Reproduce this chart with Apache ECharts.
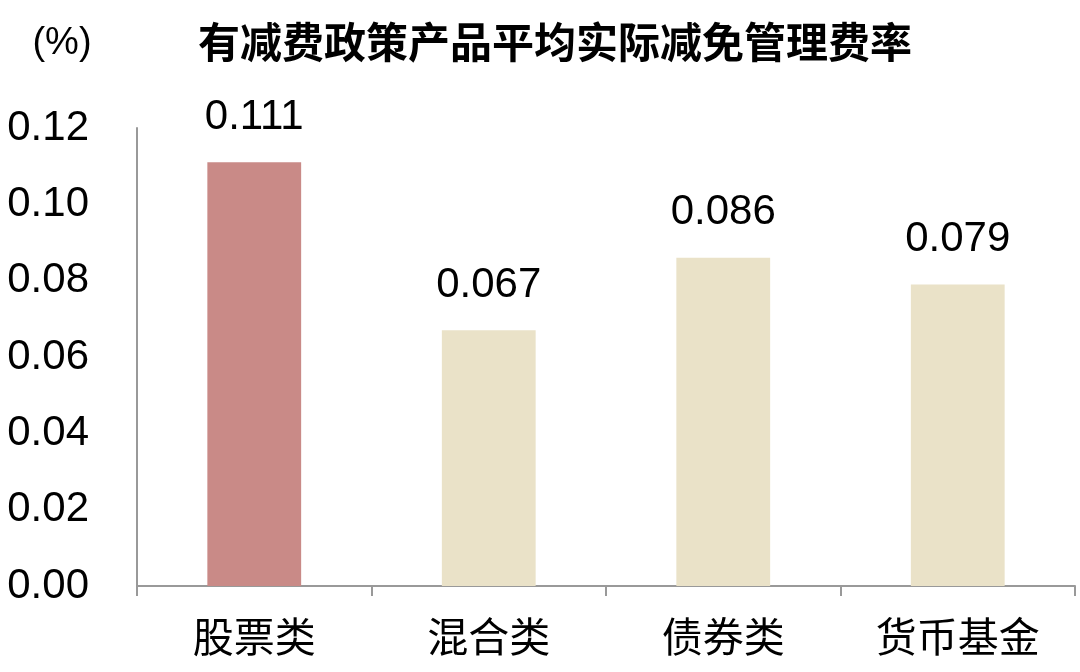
<!DOCTYPE html>
<html>
<head>
<meta charset="utf-8">
<script src="https://cdn.jsdelivr.net/npm/echarts@6/dist/echarts.min.js"></script>
<style>html,body{margin:0;padding:0;background:#fff}#chart{width:1080px;height:672px}</style>
</head>
<body>
<div id="chart"></div>
<script>
var categories = ['股票类', '混合类', '债券类', '货币基金'];
var values = [0.111, 0.067, 0.086, 0.079];
var barColors = ['#C98A87', '#EAE2C8', '#EAE2C8', '#EAE2C8'];

var myChart = echarts.init(document.getElementById('chart'));
var font = 'Liberation Sans, Arial, Noto Sans CJK SC, sans-serif';
var option = {
	animation: false,
	textStyle: { fontFamily: font },
	title: [{
		text: '有减费政策产品平均实际减免管理费率',
		left: 550, top: 16, textAlign: 'center',
		textStyle: { fontSize: 42, fontWeight: 'bold', color: '#000', fontFamily: 'Noto Sans CJK SC' }
	}, {
		text: '(%)',
		left: 57, top: 20, textAlign: 'center',
		textStyle: { fontSize: 38, fontWeight: 'normal', color: '#000', fontFamily: font }
	}],
	grid: { left: 137, right: 5, top: 128, bottom: 86 },
	xAxis: {
		type: 'category',
		data: categories,
		axisLine: { lineStyle: { color: '#999', width: 2 } },
		axisTick: { show: true, length: 10, lineStyle: { color: '#999', width: 2 } },
		axisLabel: { color: '#000', fontSize: 41, margin: 30, fontFamily: 'Noto Sans CJK SC' }
	},
	yAxis: {
		type: 'value',
		min: 0, max: 0.12, interval: 0.02,
		splitLine: { show: false },
		axisLine: { show: true, lineStyle: { color: '#999', width: 2 } },
		axisTick: { show: false },
		axisLabel: {
			color: '#000', fontSize: 42, margin: 48,
			formatter: function (v) { return v.toFixed(2); }
		}
	},
	series: [{
		type: 'bar',
		barWidth: '40%',
		data: values.map(function (v, i) {
			return { value: v, itemStyle: { color: barColors[i] } };
		}),
		label: {
			show: true, position: 'top', distance: 24,
			color: '#000', fontSize: 42,
			formatter: function (p) { return p.value.toFixed(3); }
		}
	}]
};
myChart.setOption(option);
</script>
</body>
</html>
